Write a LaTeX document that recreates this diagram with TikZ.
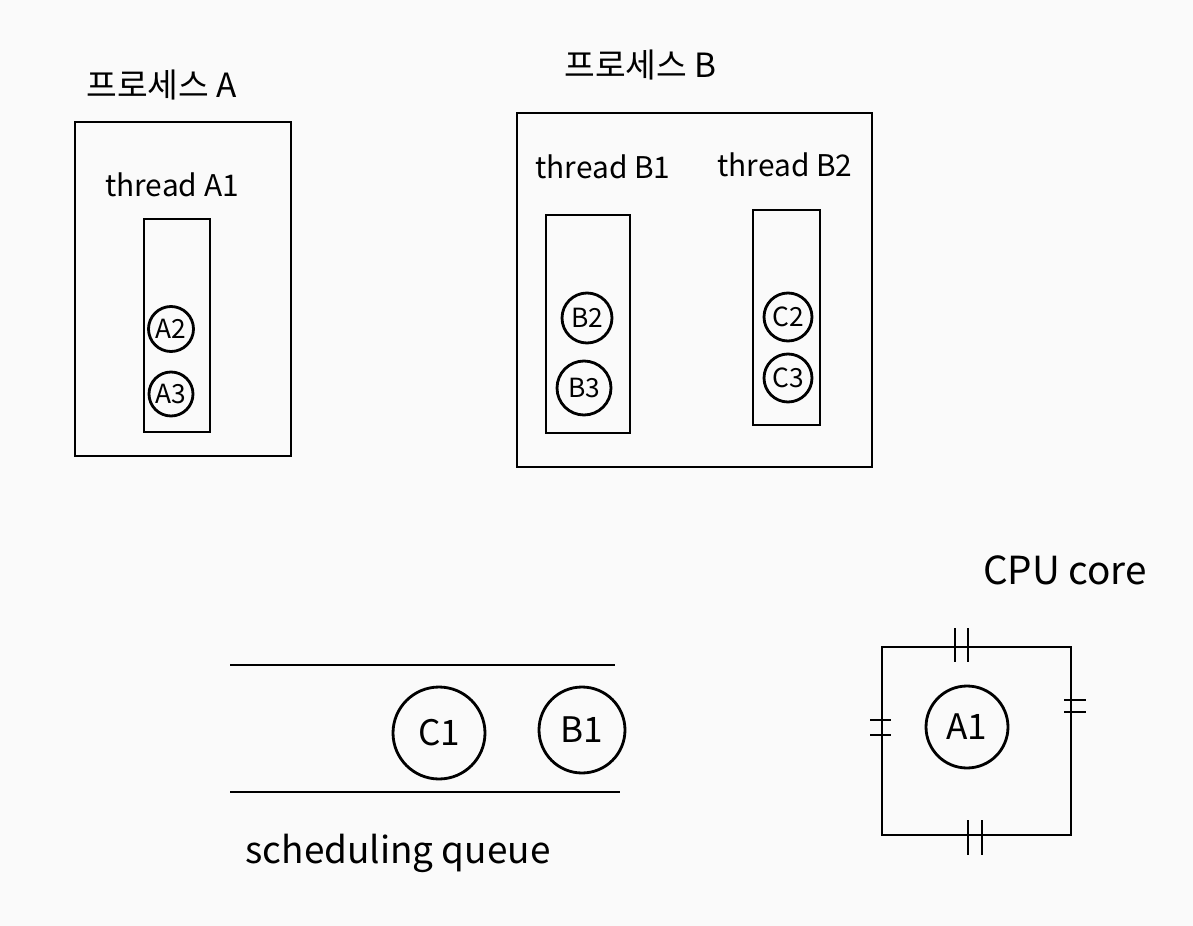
\documentclass[tikz,border=0pt]{standalone}
\usepackage{fontspec}
\setmainfont{Noto Sans CJK KR}
\usetikzlibrary{positioning}
\begin{document}
\begin{tikzpicture}[x=0.02cm,y=-0.02cm,line width=1.6pt,
  box/.style={draw},
  thr/.style={draw},
  task/.style={draw,circle,inner sep=0pt,font=\fontsize{15}{15}\selectfont},
  lbl/.style={font=\fontsize{17}{17}\selectfont,inner sep=0pt}]
\fill[white!98!black] (0,0) rectangle (1193,926);
\useasboundingbox (0,0) rectangle (1193,926);
\node[box,minimum width=4.32cm,minimum height=6.68cm] (procA) at (183,289) {};
\node[lbl,anchor=south west,font=\fontsize{19}{19}\selectfont] (procAlbl) at (85,102) {프로세스 A};
\node[lbl] (thrA1lbl) at (172,185) {thread A1};
\node[thr,minimum width=1.32cm,minimum height=4.26cm] (thrA1) at (177,325.5) {};
\node[task,minimum size=0.9cm] (A2) at (171,329) {A2};
\node[task,minimum size=0.88cm] (A3) at (171,394) {A3};
\node[box,minimum width=7.1cm,minimum height=7.08cm] (procB) at (694.5,290) {};
\node[lbl,anchor=south west,font=\fontsize{19}{19}\selectfont] (procBlbl) at (563,82) {프로세스 B};
\node[lbl] (thrB1lbl) at (603,167) {thread B1};
\node[lbl] (thrB2lbl) at (785,165) {thread B2};
\node[thr,minimum width=1.68cm,minimum height=4.36cm] (thrB1) at (588,324) {};
\node[thr,minimum width=1.34cm,minimum height=4.3cm] (thrB2) at (786.5,317.5) {};
\node[task,minimum size=1.0cm] (B2) at (587,318) {B2};
\node[task,minimum size=1.08cm] (B3) at (584,388) {B3};
\node[task,minimum size=0.96cm] (C2) at (788,317) {C2};
\node[task,minimum size=0.96cm] (C3) at (788,378) {C3};
\coordinate (qtl) at (230,665);
\coordinate (qtr) at (615,665);
\coordinate (qbl) at (230,792);
\coordinate (qbr) at (620,792);
\draw (qtl) -- (qtr);
\draw (qbl) -- (qbr);
\node[task,minimum size=1.84cm,font=\fontsize{20}{20}\selectfont] (C1) at (439,733) {C1};
\node[task,minimum size=1.72cm,font=\fontsize{20}{20}\selectfont] (B1) at (582,730) {B1};
\node[lbl,font=\fontsize{21}{21}\selectfont] (queuelbl) at (398,853) {scheduling queue};
\node[box,minimum width=3.78cm,minimum height=3.76cm] (cpu) at (976.5,741) {};
\node[lbl,font=\fontsize{22}{22}\selectfont] (cpulbl) at (1065,570) {CPU core};
\node[task,minimum size=1.64cm,font=\fontsize{20}{20}\selectfont] (A1) at (967,727) {A1};
\draw (955,628) -- (955,662) (968,628) -- (968,662);
\draw (968,820) -- (968,855) (982,820) -- (982,855);
\draw (1064,700) -- (1086,700) (1064,712) -- (1086,712);
\draw (870,720) -- (891,720) (870,735) -- (891,735);
\end{tikzpicture}
\end{document}
